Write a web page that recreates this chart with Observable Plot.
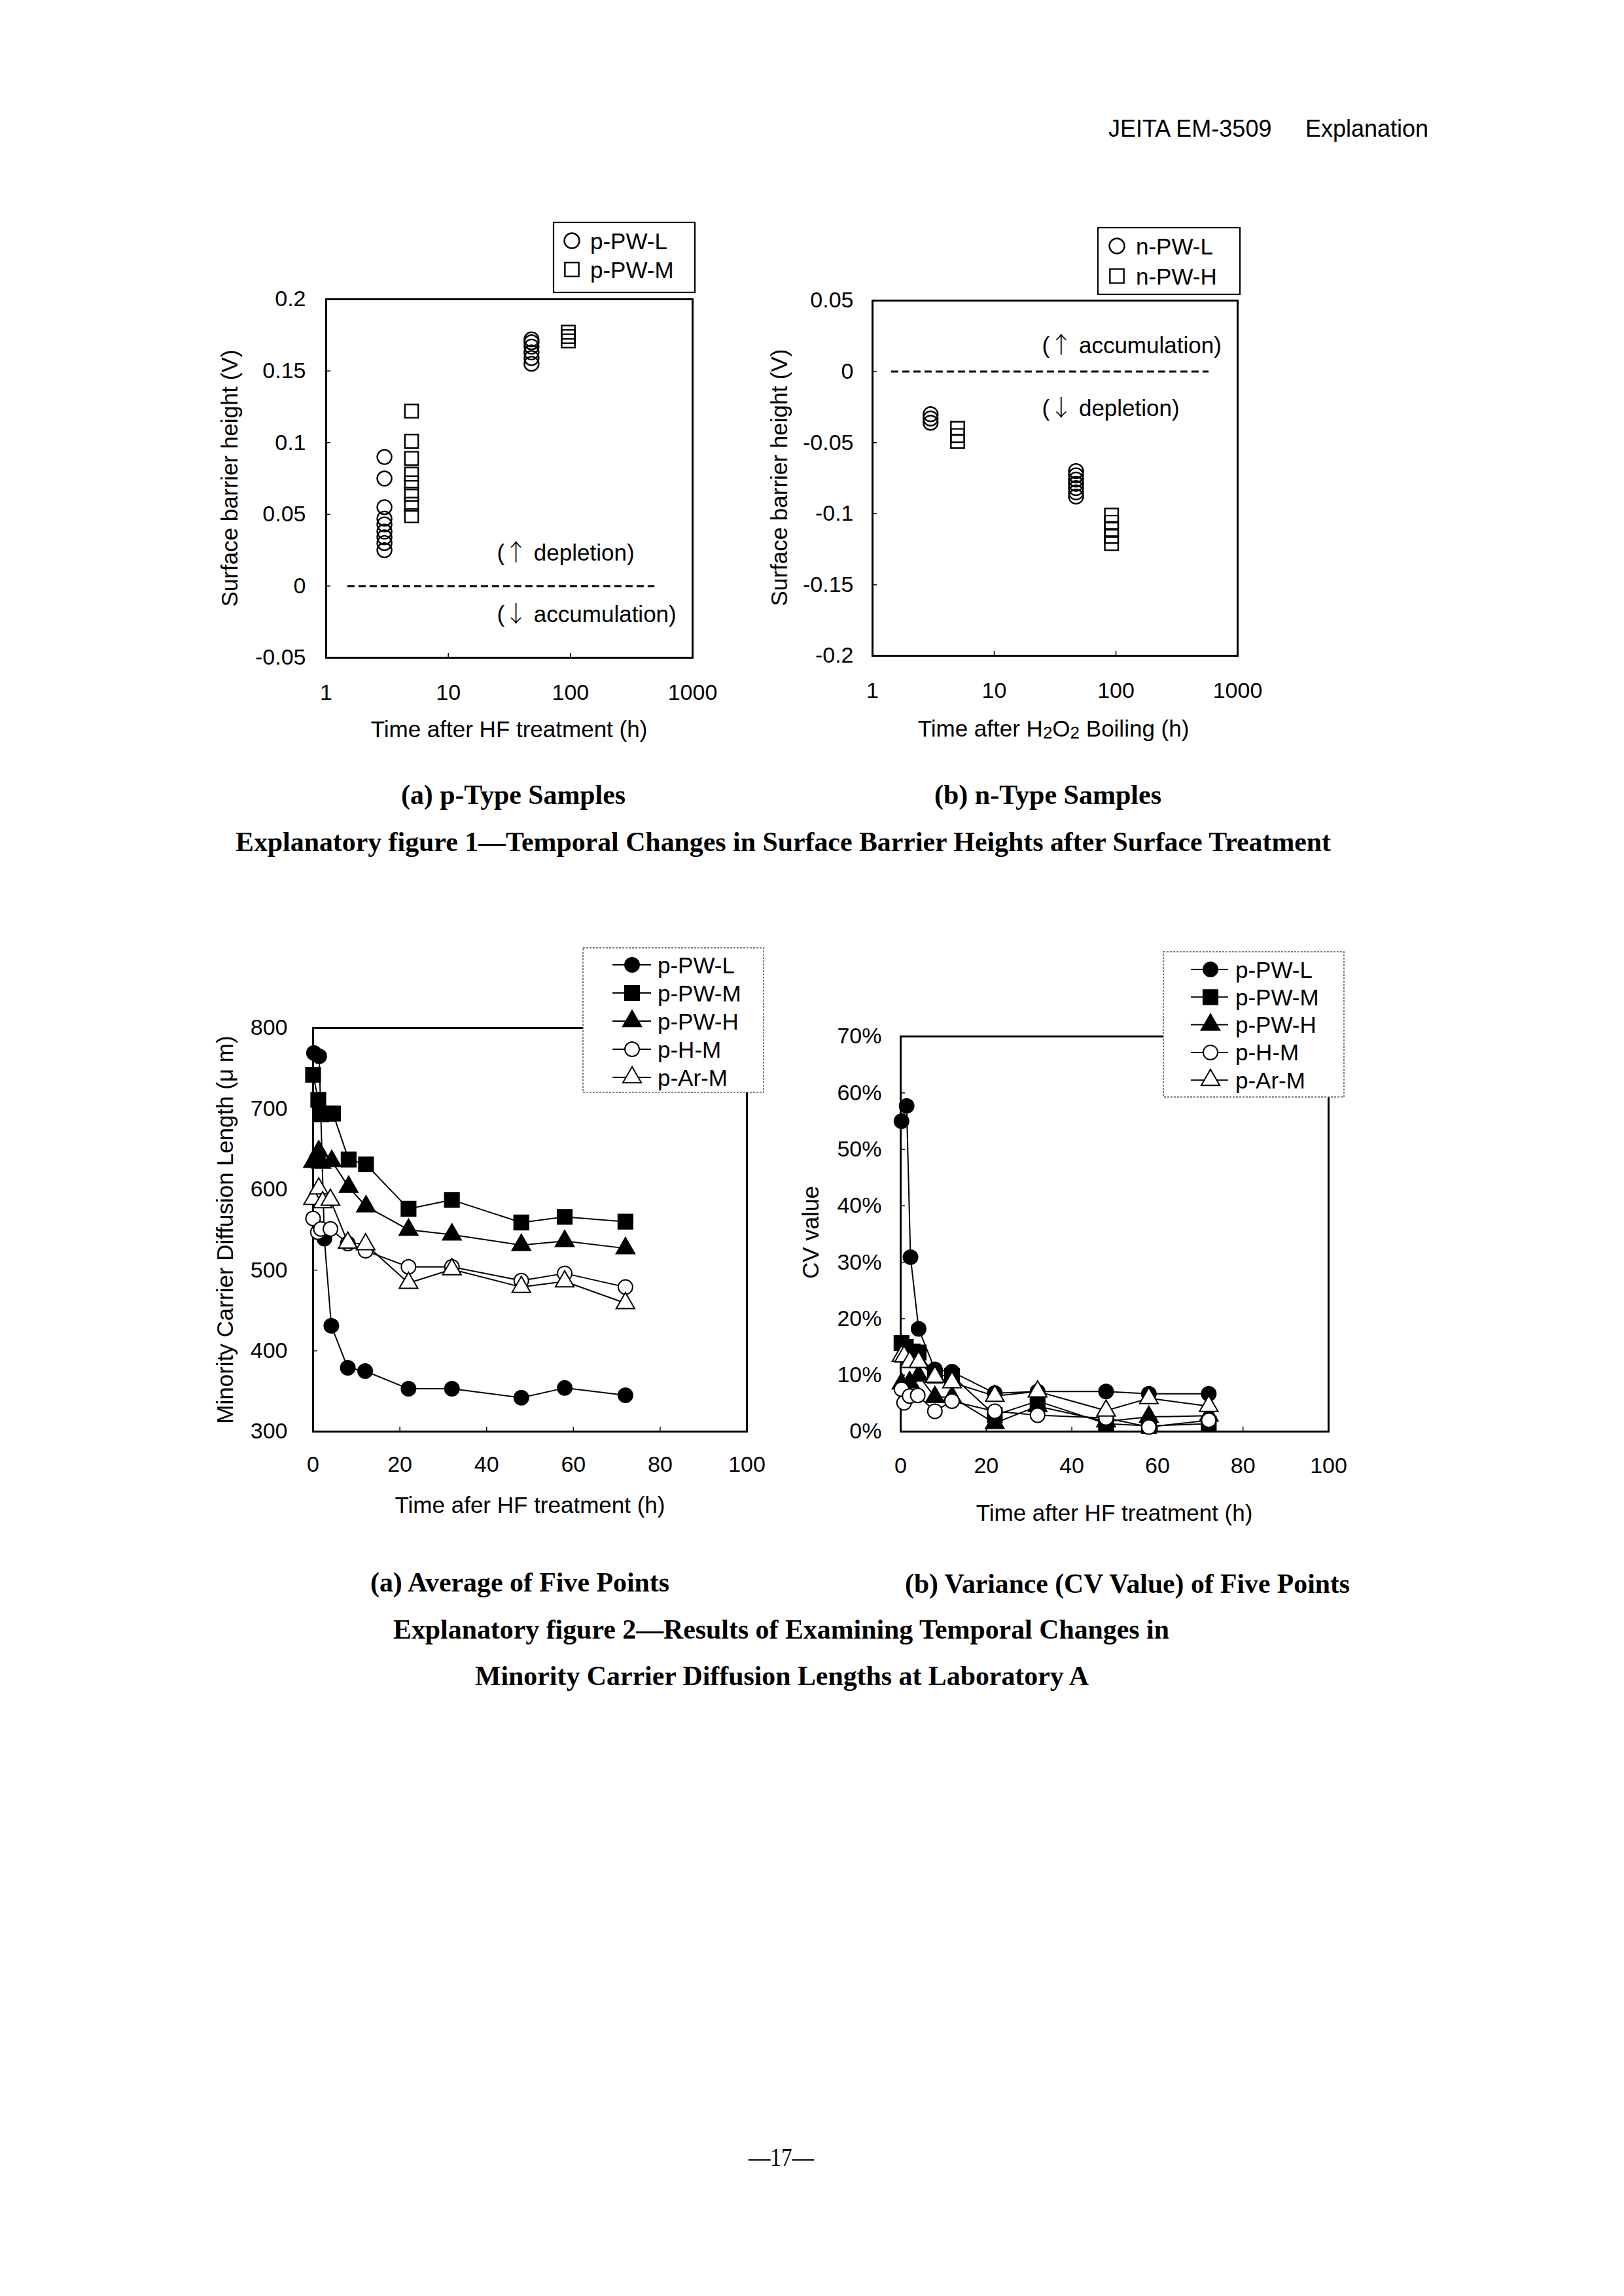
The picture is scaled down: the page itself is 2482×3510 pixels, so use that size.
<!DOCTYPE html>
<html><head><meta charset="utf-8">
<script src="https://cdn.jsdelivr.net/npm/d3@7"></script>
<script src="https://cdn.jsdelivr.net/npm/@observablehq/plot@0.6"></script>
<style>
html,body{margin:0;padding:0;background:#fff;}
#page{position:relative;width:2482px;height:3510px;background:#fff;overflow:hidden;}
.chart{position:absolute;}
#overlay{position:absolute;left:0;top:0;}
</style></head><body><div id="page"></div>
<script>
// ---------- Figure 1 (a): p-type surface barrier heights ----------
const p1Series = ["p-PW-L", "p-PW-M"];
const p1Time_L = [3,3,3,3,3,3,3,3,3, 48,48,48,48,48,48];
const p1Barrier_L = [0.090,0.075,0.055,0.047,0.043,0.038,0.034,0.030,0.025, 0.172,0.170,0.167,0.163,0.159,0.155];
const p1Time_M = [5,5,5,5,5,5,5,5, 96,96,96];
const p1Barrier_M = [0.122,0.101,0.089,0.078,0.072,0.064,0.057,0.049, 0.177,0.174,0.171];
const p1YTicks = [-0.05, 0, 0.05, 0.1, 0.15, 0.2];
const p1Notes = [["\u2191", " depletion)"], ["\u2193", " accumulation)"]];
const p1NoteY = [0.023, -0.020];

// ---------- Figure 1 (b): n-type surface barrier heights ----------
const n1Series = ["n-PW-L", "n-PW-H"];
const n1Time_L = [3,3,3, 47,47,47,47,47,47,47];
const n1Barrier_L = [-0.030,-0.033,-0.036, -0.070,-0.073,-0.076,-0.079,-0.082,-0.085,-0.088];
const n1Time_H = [5,5,5, 92,92,92,92,92];
const n1Barrier_H = [-0.040,-0.045,-0.049, -0.101,-0.106,-0.111,-0.116,-0.121];
const n1YTicks = [-0.2, -0.15, -0.1, -0.05, 0, 0.05];
const n1Notes = [["\u2191", " accumulation)"], ["\u2193", " depletion)"]];
const n1NoteY = [0.018, -0.026];

const logXTicks = [1, 10, 100, 1000];

// ---------- Figure 2: laboratory A ----------
const labSeries = ["p-PW-L", "p-PW-M", "p-PW-H", "p-H-M", "p-Ar-M"];
// (a) average diffusion length (um)
const avgTime_PWL = [0.2, 1.4, 2.6, 4.2, 8, 12, 22, 32, 48, 58, 72];
const avgLen_PWL  = [769, 765, 539, 431, 379, 375, 353, 353, 342, 354, 345];
const avgTime_PWM = [0, 1.2, 1.9, 3.2, 4.6, 8.2, 12.2, 22, 32, 48, 58, 72];
const avgLen_PWM  = [742, 711, 693, 694, 694, 637, 631, 576, 587, 559, 566, 560];
const avgTime_PWH = [0, 1.3, 1.9, 4.3, 8.2, 12.2, 22, 32, 48, 58, 72];
const avgLen_PWH  = [634, 647, 633, 635, 603, 579, 550, 544, 531, 536, 527];
const avgTime_HM  = [0, 1.1, 1.8, 4, 8, 12.1, 22, 32, 48, 58, 72];
const avgLen_HM   = [564, 547, 551, 551, 533, 524, 504, 504, 487, 496, 479];
const avgTime_ArM = [0, 1.3, 2.2, 4, 8, 12.1, 22, 32, 48, 58, 72];
const avgLen_ArM  = [588, 601, 584, 587, 534, 532, 484, 501, 479, 486, 459];
const lenYTicks = [300, 400, 500, 600, 700, 800];

// (b) CV value (%)
const cvTime_PWL = [0.2, 1.4, 2.3, 4.2, 8, 12, 22, 32, 48, 58, 72];
const cv_PWL     = [55.0, 57.7, 30.9, 18.2, 11.0, 10.6, 6.8, 7.1, 7.1, 6.7, 6.7];
const cvTime_PWM = [0.2, 1.2, 2.8, 4.2, 8, 12, 22, 32, 48, 58, 72];
const cv_PWM     = [15.7, 15.0, 14.2, 14.0, 9.9, 9.9, 2.9, 5.4, 1.4, 1.0, 1.4];
const cvTime_PWH = [0.2, 2.1, 4.2, 8, 12, 22, 32, 48, 58, 72];
const cv_PWH     = [8.5, 8.7, 9.9, 6.1, 6.1, 1.5, 4.5, 1.8, 2.6, 2.8];
const cvTime_HM  = [0.2, 0.8, 2.1, 4, 8, 12, 22, 32, 48, 58, 72];
const cv_HM      = [7.5, 5.1, 6.3, 6.4, 3.6, 5.4, 3.6, 2.9, 2.4, 0.8, 2.0];
const cvTime_ArM = [0.2, 0.8, 2.1, 4.2, 8, 12, 22, 32, 48, 58, 72];
const cv_ArM     = [13.4, 13.3, 12.3, 12.3, 9.7, 8.7, 6.3, 7.1, 3.7, 5.9, 4.5];
const cvYTicks = [0, 10, 20, 30, 40, 50, 60, 70];
const linXTicks = [0, 20, 40, 60, 80, 100];

// ---------- helpers ----------
const SANS = "'Liberation Sans', Arial, sans-serif";
const SERIF = "'Liberation Serif', 'Times New Roman', serif";
const CJK = "'Noto Sans CJK JP', 'DejaVu Sans', sans-serif";
const page = document.getElementById("page");

function place(svg, left, top) {
  const d = document.createElement("div");
  d.className = "chart";
  d.style.left = left + "px"; d.style.top = top + "px";
  d.appendChild(svg);
  page.appendChild(d);
}

const M = {l: 170, r: 40, t: 40, b: 100};

function basePlot(fr, x, y, xTicks, xFmt, yTicks, yFmt, padX, padY, marks) {
  const fw = fr.r - fr.l, fh = fr.b - fr.t;
  const svg = Plot.plot({
    width: M.l + fw + M.r, height: M.t + fh + M.b,
    marginLeft: M.l, marginRight: M.r, marginTop: M.t, marginBottom: M.b,
    x: Object.assign({label: null}, x),
    y: Object.assign({label: null}, y),
    style: {fontFamily: SANS, fontSize: "34px", color: "black", background: "none", overflow: "visible"},
    marks: [
      Plot.frame({stroke: "black", strokeWidth: 3}),
      Plot.axisX({ticks: xTicks, tickFormat: xFmt, tickSize: 0, tickPadding: padX}),
      Plot.axisY({ticks: yTicks, tickFormat: yFmt, tickSize: 0, tickPadding: padY}),
      Plot.tickY(yTicks, {y: d => d, insetRight: fw - 7, stroke: "black", strokeWidth: 1.5}),
      Plot.tickX(xTicks, {x: d => d, insetTop: fh - 7, stroke: "black", strokeWidth: 1.5}),
      ...marks
    ]
  });
  svg.style.maxWidth = "none";
  place(svg, fr.l - M.l, fr.t - M.t);
  return svg;
}

// Render note "(↑ text)" with a full-width arrow glyph inside Plot text elements
function fixNotes(svg) {
  d3.select(svg).selectAll("text").each(function () {
    const s = this.textContent;
    if (s.startsWith("(\u2191") || s.startsWith("(\u2193")) {
      const arrow = s[1], rest = s.slice(2);
      const t = d3.select(this);
      t.text(null);
      t.append("tspan").text("(");
      t.append("tspan").attr("font-family", CJK).attr("font-weight", 300).text(arrow);
      t.append("tspan").text(rest);
    }
  });
}

const numFmt = d => String(d);
const noteText = d => "(" + d[0] + d[1];

// ---------- Figure 1 (a) ----------
const F1a = {l: 498, t: 457, r: 1058, b: 1005};
fixNotes(basePlot(F1a, {type: "log", domain: [1, 1000]}, {domain: [-0.05, 0.2]},
  logXTicks, numFmt, p1YTicks, numFmt, 40, 31, [
    Plot.ruleY([0], {x1: 1.5, x2: 490, stroke: "black", strokeWidth: 3, strokeDasharray: "11,6"}),
    Plot.text(p1Notes, {x: [25, 25], y: p1NoteY, text: noteText, textAnchor: "start", fontSize: 35, fill: "black"}),
    Plot.dot(p1Barrier_L, {x: p1Time_L, y: p1Barrier_L, symbol: "circle", r: 11, fill: "none", stroke: "black", strokeWidth: 2.4}),
    Plot.dot(p1Barrier_M, {x: p1Time_M, y: p1Barrier_M, symbol: "square", r: 11.5, fill: "none", stroke: "black", strokeWidth: 2.4})
  ]));

// ---------- Figure 1 (b) ----------
const F1b = {l: 1333, t: 459, r: 1891, b: 1002};
fixNotes(basePlot(F1b, {type: "log", domain: [1, 1000]}, {domain: [-0.2, 0.05]},
  logXTicks, numFmt, n1YTicks, numFmt, 40, 29, [
    Plot.ruleY([0], {x1: 1.43, x2: 580, stroke: "black", strokeWidth: 3, strokeDasharray: "11,6"}),
    Plot.text(n1Notes, {x: [24.7, 24.7], y: n1NoteY, text: noteText, textAnchor: "start", fontSize: 35, fill: "black"}),
    Plot.dot(n1Barrier_L, {x: n1Time_L, y: n1Barrier_L, symbol: "circle", r: 11, fill: "none", stroke: "black", strokeWidth: 2.4}),
    Plot.dot(n1Barrier_H, {x: n1Time_H, y: n1Barrier_H, symbol: "square", r: 11.5, fill: "none", stroke: "black", strokeWidth: 2.4})
  ]));

// series styles for figure 2
const labStyle = [
  {symbol: "circle",   r: 11,   fill: "black"},
  {symbol: "square",   r: 12.5, fill: "black"},
  {symbol: "triangle", r: 10.5, fill: "black"},
  {symbol: "circle",   r: 11,   fill: "white"},
  {symbol: "triangle", r: 10.5, fill: "white"}
];
function seriesMarks(ts, vs) {
  const out = [];
  ts.forEach((t, i) => {
    out.push(Plot.line(vs[i], {x: t, y: vs[i], stroke: "black", strokeWidth: 2}));
    out.push(Plot.dot(vs[i], {x: t, y: vs[i], symbol: labStyle[i].symbol, r: labStyle[i].r,
      fill: labStyle[i].fill, stroke: "black", strokeWidth: 2}));
  });
  return out;
}

// ---------- Figure 2 (a) ----------
const F2a = {l: 478, t: 1571, r: 1141, b: 2188};
basePlot(F2a, {domain: [0, 100]}, {domain: [300, 800]},
  linXTicks, numFmt, lenYTicks, numFmt, 37, 39,
  seriesMarks([avgTime_PWL, avgTime_PWM, avgTime_PWH, avgTime_HM, avgTime_ArM],
              [avgLen_PWL, avgLen_PWM, avgLen_PWH, avgLen_HM, avgLen_ArM]));

// ---------- Figure 2 (b) ----------
const F2b = {l: 1376, t: 1584, r: 2030, b: 2188};
basePlot(F2b, {domain: [0, 100]}, {domain: [0, 70]},
  linXTicks, numFmt, cvYTicks, d => d + "%", 39, 29,
  seriesMarks([cvTime_PWL, cvTime_PWM, cvTime_PWH, cvTime_HM, cvTime_ArM],
              [cv_PWL, cv_PWM, cv_PWH, cv_HM, cv_ArM]));

// ---------- overlay: texts and legends ----------
const ov = d3.select(page).append("svg").attr("id", "overlay").attr("width", 2482).attr("height", 3510);

function T(str, x, y, o = {}) {
  const t = ov.append("text").attr("x", x).attr("y", y)
    .attr("font-family", o.family || SANS).attr("font-size", o.size || 35)
    .attr("font-weight", o.weight || "normal").attr("text-anchor", o.anchor || "start")
    .attr("fill", "black");
  if (o.baseline) t.attr("dominant-baseline", o.baseline);
  if (o.rotate) t.attr("transform", `rotate(${o.rotate},${x},${y})`);
  if (o.len) t.attr("textLength", o.len).attr("lengthAdjust", "spacingAndGlyphs");
  if (str !== null) t.text(str);
  return t;
}

function sym(type, cx, cy, r, fill, sw) {
  const shape = {circle: d3.symbolCircle, square: d3.symbolSquare, triangle: d3.symbolTriangle}[type];
  ov.append("path").attr("d", d3.symbol(shape, Math.PI * r * r)())
    .attr("transform", `translate(${cx},${cy})`)
    .attr("fill", fill).attr("stroke", "black").attr("stroke-width", sw);
}

// header and page number
T("JEITA EM-3509", 1694, 209, {size: 36});
T("Explanation", 1995, 209, {size: 36});
T("\u201417\u2014", 1144, 3311, {size: 40, family: SERIF, len: 100});

// axis titles
T("Surface barrier height (V)", 350, 731, {rotate: -90, anchor: "middle", baseline: "central"});
T("Time after HF treatment (h)", 778, 1114, {anchor: "middle", baseline: "central"});
T("Surface barrier height (V)", 1190, 730, {rotate: -90, anchor: "middle", baseline: "central"});
const h2o2 = T(null, 1610, 1113, {anchor: "middle", baseline: "central"});
h2o2.append("tspan").text("Time after H");
h2o2.append("tspan").attr("font-size", 26).attr("dy", 7).text("2");
h2o2.append("tspan").attr("dy", -7).text("O");
h2o2.append("tspan").attr("font-size", 26).attr("dy", 7).text("2");
h2o2.append("tspan").attr("dy", -7).text(" Boiling (h)");
T("Minority Carrier Diffusion Length (\u03bc m)", 343, 1880, {rotate: -90, anchor: "middle", baseline: "central"});
T("Time afer HF treatment (h)", 810, 2300, {anchor: "middle", baseline: "central"});
T("CV value", 1238, 1884, {rotate: -90, anchor: "middle", baseline: "central"});
T("Time after HF treatment (h)", 1703, 2312, {anchor: "middle", baseline: "central"});

// figure captions
const cap = {family: SERIF, weight: "bold", size: 42};
T("(a) p-Type Samples", 613, 1229, Object.assign({len: 343}, cap));
T("(b) n-Type Samples", 1428, 1229, Object.assign({len: 347}, cap));
T("Explanatory figure 1\u2014Temporal Changes in Surface Barrier Heights after Surface Treatment", 360, 1301, Object.assign({len: 1674}, cap));
T("(a) Average of Five Points", 566, 2433, Object.assign({len: 457}, cap));
T("(b) Variance (CV Value) of Five Points", 1383, 2435, Object.assign({len: 680}, cap));
T("Explanatory figure 2\u2014Results of Examining Temporal Changes in", 601, 2505, Object.assign({len: 1186}, cap));
T("Minority Carrier Diffusion Lengths at Laboratory A", 726, 2576, Object.assign({len: 938}, cap));

// figure 1 legends
function legend1(box, names, sx, tx, ys) {
  ov.append("rect").attr("x", box[0]).attr("y", box[1]).attr("width", box[2] - box[0]).attr("height", box[3] - box[1])
    .attr("fill", "white").attr("stroke", "black").attr("stroke-width", 2.2);
  sym("circle", sx, ys[0], 11.5, "none", 2.4);
  sym("square", sx, ys[1], 12, "none", 2.4);
  names.forEach((n, i) => T(n, tx, ys[i], {size: 35, baseline: "central"}));
}
legend1([846, 340, 1062, 447], p1Series, 874, 902, [368, 412]);
legend1([1678, 348, 1895, 450], n1Series, 1707, 1736, [376, 422]);

// figure 2 legends
function legend2(box, x1, x2, mx, tx, y0, dy) {
  ov.append("rect").attr("x", box[0]).attr("y", box[1]).attr("width", box[2] - box[0]).attr("height", box[3] - box[1])
    .attr("fill", "white").attr("stroke", "#555").attr("stroke-width", 1.5).attr("stroke-dasharray", "3,2");
  labSeries.forEach((n, i) => {
    const y = y0 + i * dy;
    ov.append("line").attr("x1", x1).attr("x2", x2).attr("y1", y).attr("y2", y).attr("stroke", "black").attr("stroke-width", 2);
    sym(labStyle[i].symbol, mx, y, labStyle[i].r, labStyle[i].fill, 2);
    T(n, tx, y, {size: 35, baseline: "central"});
  });
}
legend2([891, 1449, 1167, 1670], 936, 995, 966, 1005, 1475, 43);
legend2([1778, 1455, 2054, 1677], 1820, 1877, 1850, 1888, 1482, 42.3);
</script></body></html>
